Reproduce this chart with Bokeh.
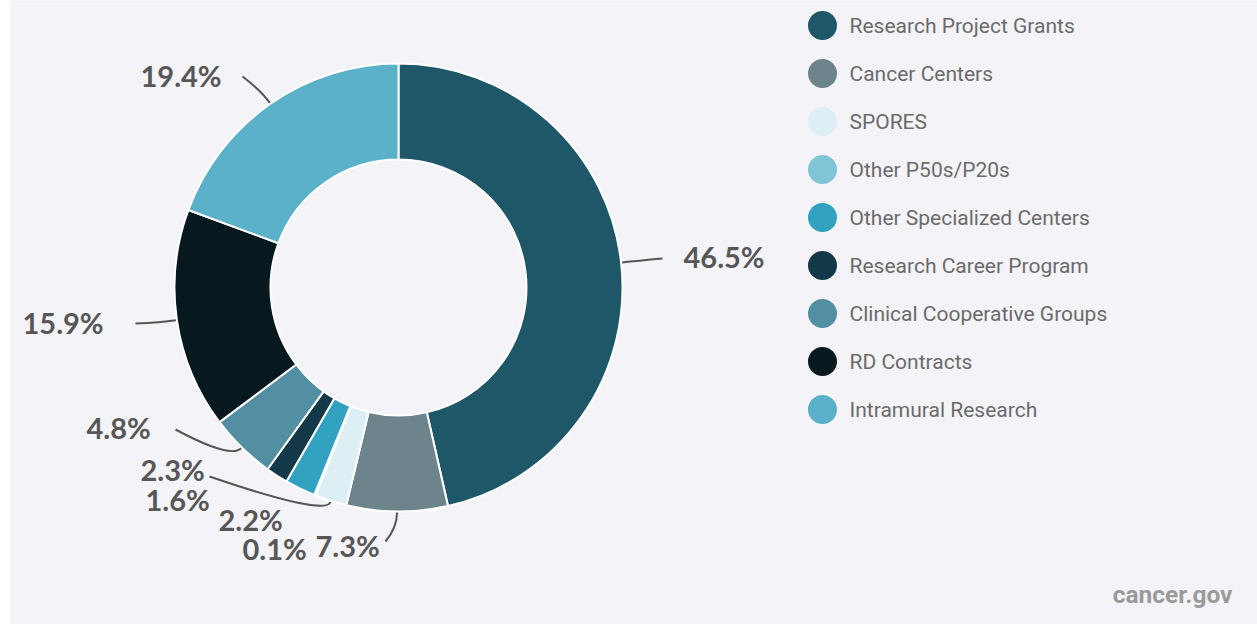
import math
from bokeh.plotting import figure
from bokeh.models import Range1d
from bokeh.core.properties import value
from bokeh.embed import file_html
from bokeh.resources import INLINE

# ---------------- data ----------------
categories = [
    "Research Project Grants",
    "Cancer Centers",
    "SPORES",
    "Other P50s/P20s",
    "Other Specialized Centers",
    "Research Career Program",
    "Clinical Cooperative Groups",
    "RD Contracts",
    "Intramural Research",
]
shares = [46.5, 7.3, 2.3, 0.1, 2.2, 1.6, 4.8, 15.9, 19.4]
colors = [
    "#1e5768", "#6e848c", "#ddeff4", "#80c4d7", "#31a2c0",
    "#133847", "#528fa2", "#07191e", "#5ab1c9",
]
pct_labels = [f"{v}%" for v in shares]
source_note = "cancer.gov"

# ---------------- layout (reference pixel coords, y down) ----------------
W, H = 1257, 624
LEFT_STRIP = 10
CX, CY = 398, 287
R_OUT, R_IN = 224, 128

def yy(y_ref):
    return H - y_ref

# label text anchor (left, middle) per slice
label_pos = [(683, 256), (315, 545), (140, 469), (242, 548), (218, 519),
             (145, 499), (86, 427), (22, 322), (140, 75)]
# connector start near label, None = no connector
conn_start = [(662, 258), (385, 541), (209, 476), None, None,
              None, (175, 429), (135, 323), (242, 76)]

LEG_X, LEG_Y0, LEG_DY = 822, 25, 48

p = figure(width=W, height=H, output_backend="svg", toolbar_location=None,
           x_range=Range1d(LEFT_STRIP, W), y_range=Range1d(0, H),
           min_border=0, min_border_left=LEFT_STRIP)
p.axis.visible = False
p.grid.visible = False
p.outline_line_color = None
p.background_fill_color = "#f4f4f8"
p.border_fill_color = "white"

total = sum(shares)
starts, ends, mids = [], [], []
cum = 0.0
for v in shares:
    a0 = math.pi / 2 - 2 * math.pi * cum / total
    a1 = math.pi / 2 - 2 * math.pi * (cum + v) / total
    starts.append(a0)
    ends.append(a1)
    mids.append((a0 + a1) / 2)
    cum += v

p.annular_wedge(x=[CX] * len(shares), y=[yy(CY)] * len(shares),
                inner_radius=R_IN, outer_radius=R_OUT,
                start_angle=starts, end_angle=ends, direction="clock",
                fill_color=colors, line_color="white", line_width=2)

# connectors
x0s, y0s, x1s, y1s, cxs, cys = [], [], [], [], [], []
for i, cs in enumerate(conn_start):
    if cs is None:
        continue
    th = mids[i]
    ex = CX + (R_OUT + 1) * math.cos(th)
    ey = yy(CY) + (R_OUT + 1) * math.sin(th)
    bx = CX + (R_OUT + 16) * math.cos(th)
    by = yy(CY) + (R_OUT + 16) * math.sin(th)
    x0s.append(cs[0]); y0s.append(yy(cs[1]))
    x1s.append(ex); y1s.append(ey)
    cxs.append(bx); cys.append(by)
p.quadratic(x0=x0s, y0=y0s, x1=x1s, y1=y1s, cx=cxs, cy=cys,
            line_color="#555555", line_width=2)

# percentage labels
p.text(x=[lp[0] for lp in label_pos], y=[yy(lp[1]) for lp in label_pos],
       text=pct_labels, text_font=value("Lato"), text_font_style="bold",
       text_font_size="29px", text_color="#575757",
       text_align="left", text_baseline="middle")

# legend
leg_y = [yy(LEG_Y0 + i * LEG_DY) for i in range(len(categories))]
p.scatter(x=[LEG_X] * len(categories), y=leg_y, size=29, marker="circle",
          fill_color=colors, line_color=None)
p.text(x=[LEG_X + 27] * len(categories), y=leg_y, text=categories,
       text_font=value("Roboto"), text_font_size="21px",
       text_color="#6b6b6b", text_align="left", text_baseline="middle")

# source
p.text(x=[1232], y=[yy(594)], text=[source_note],
       text_font=value("Roboto"), text_font_style="bold",
       text_font_size="24.5px", text_color="#9a9a9a",
       text_align="right", text_baseline="middle")

open("out.html", "w").write(file_html(p, INLINE))
